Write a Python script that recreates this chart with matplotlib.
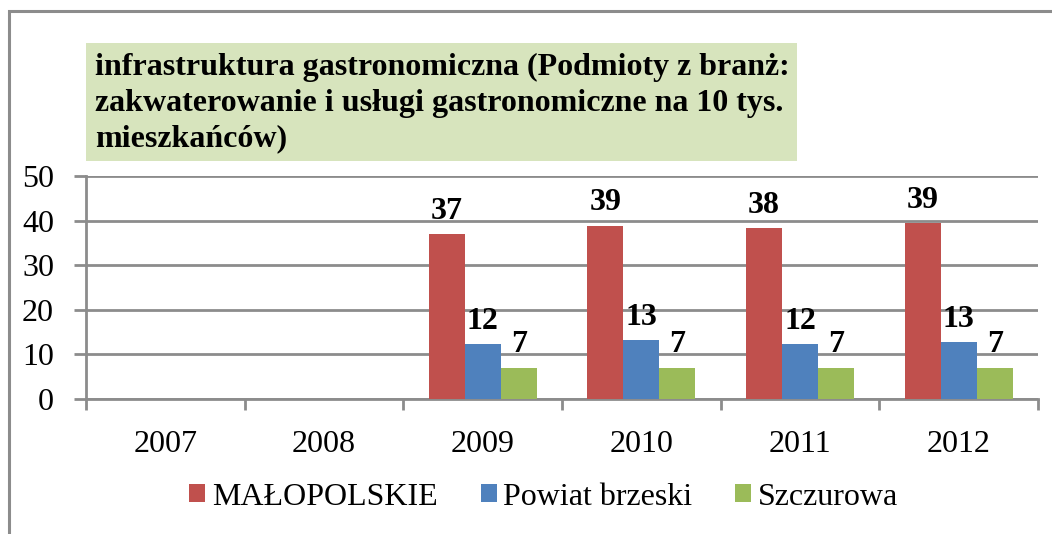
import numpy as np
import matplotlib.pyplot as plt
from matplotlib.patches import Rectangle

years = ['2007', '2008', '2009', '2010', '2011', '2012']
malopolskie = [np.nan, np.nan, 36.9, 38.9, 38.3, 39.4]
powiat = [np.nan, np.nan, 12.3, 13.2, 12.3, 12.8]
szczurowa = [np.nan, np.nan, 7.0, 7.0, 7.0, 7.0]
series_names = ['MAŁOPOLSKIE', 'Powiat brzeski', 'Szczurowa']
title_lines = ['infrastruktura gastronomiczna (Podmioty z branż:',
               'zakwaterowanie i usługi gastronomiczne na 10 tys.',
               'mieszkańców)']

plt.rcParams['font.family'] = ['Liberation Serif', 'DejaVu Serif']

W, H = 1052, 534
fig = plt.figure(figsize=(W / 100, H / 100), dpi=100)

# outer frame of the chart
fig.patches.append(Rectangle((9 / W, -0.05), 1.1, 1 - 11 / H + 0.05,
                             transform=fig.transFigure, fill=False,
                             edgecolor='#8c8c8c', lw=2.2))

ax = fig.add_axes([86 / W, 1 - 399 / H, (1038 - 86) / W, (399 - 176) / H])

colors = ['#c0504d', '#4f81bd', '#9bbb59']
x = np.arange(len(years))
bw = 0.227
for i, (vals, c, name) in enumerate(zip([malopolskie, powiat, szczurowa], colors, series_names)):
    pos = x + (i - 1) * bw
    ax.bar(pos, vals, bw, color=c, label=name, zorder=3)
    for p, v in zip(pos, vals):
        if not np.isnan(v):
            ax.annotate(f'{v:.0f}', (p, v), xytext=(0, 6), textcoords='offset points',
                        ha='center', va='bottom', fontsize=23, fontweight='bold', zorder=4)

ax.set_xlim(-0.5, len(years) - 0.5)
ax.set_ylim(0, 50)
ax.set_yticks(range(0, 51, 10))
ax.set_xticks(x)
ax.set_xticklabels(years)
ax.set_xticks(np.arange(-0.5, len(years)), minor=True)
ax.tick_params(axis='x', which='major', length=0, pad=22, labelsize=23)
ax.tick_params(axis='x', which='minor', length=8, width=2, color='#8c8c8c')
ax.tick_params(axis='y', length=9, width=2, color='#8c8c8c', labelsize=23, pad=14)
ax.grid(axis='y', color='#8c8c8c', lw=2, zorder=0)
for s in ['top', 'right']:
    ax.spines[s].set_visible(False)
for s in ['left', 'bottom']:
    ax.spines[s].set_color('#8c8c8c')
    ax.spines[s].set_linewidth(2)

# title box
fig.patches.append(Rectangle((86 / W, 1 - 161 / H), (797 - 86) / W, (161 - 43) / H,
                             transform=fig.transFigure, facecolor='#d7e4bd',
                             edgecolor='none'))
for k, line in enumerate(title_lines):
    fig.text(95 / W, 1 - (75 + 35.5 * k) / H, line, ha='left', va='baseline',
             fontsize=23, fontweight='bold')

ax.legend(loc='center', bbox_to_anchor=(0.4806, -(497 - 399) / (399 - 176)),
          bbox_transform=ax.transAxes, ncol=3, frameon=False, fontsize=23,
          handlelength=0.5, handleheight=0.5, handletextpad=0.2, columnspacing=1.35,
          borderpad=0, borderaxespad=0)

fig.savefig('out.png', dpi=100)
